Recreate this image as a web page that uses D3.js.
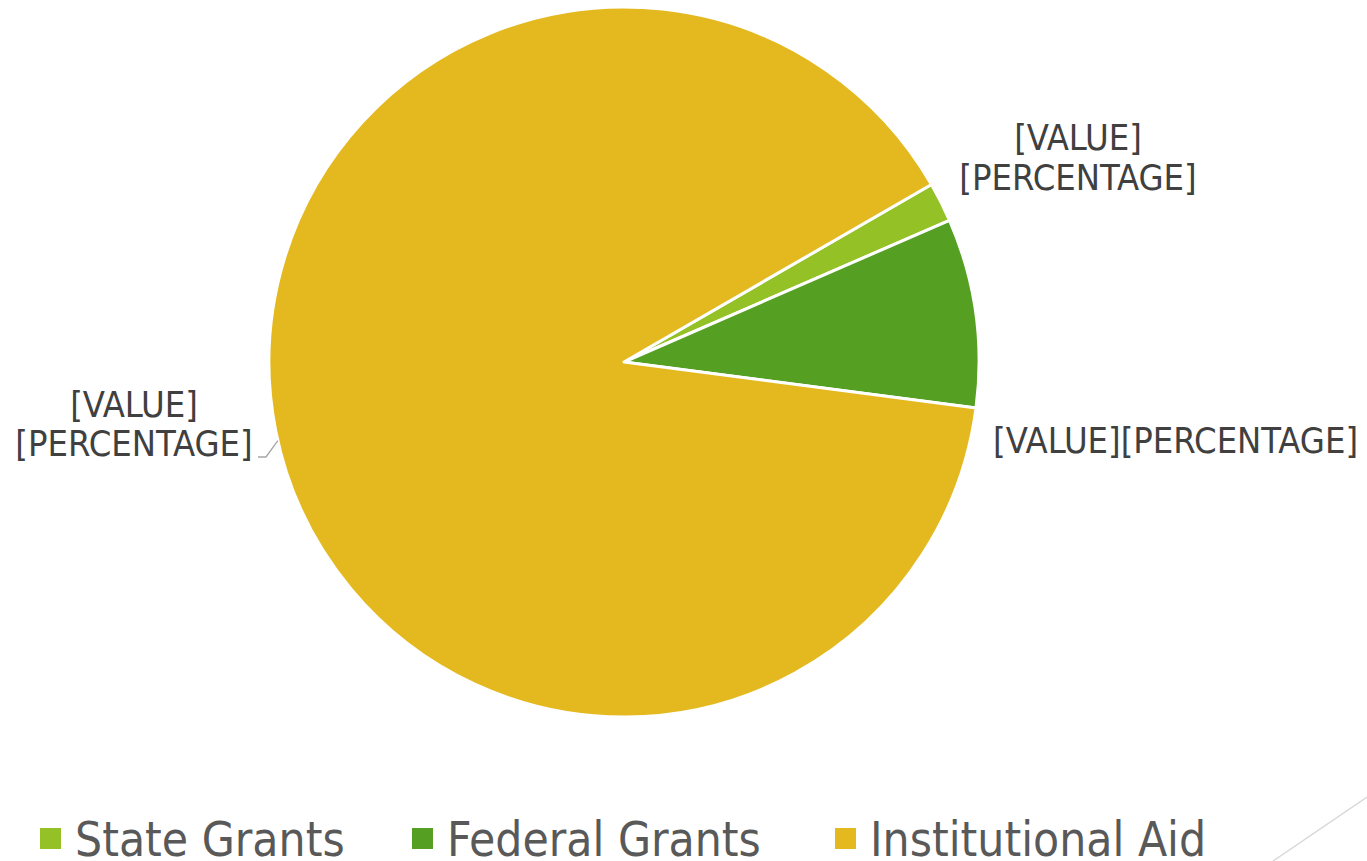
<!DOCTYPE html>
<html><head><meta charset="utf-8">
<script src="https://cdn.jsdelivr.net/npm/d3@7"></script>
<style>body{margin:0;background:#fff;}svg{display:block;}</style>
</head><body>
<svg id="c" width="1367" height="861"></svg>
<script>
const categories = ["State Grants", "Federal Grants", "Institutional Aid"];
const values = [1.8, 8.6, 89.6];
const colors = ["#93C126", "#55A023", "#E4B91F"];
const labelTexts = [["[VALUE]", "[PERCENTAGE]"], ["[VALUE][PERCENTAGE]"], ["[VALUE]", "[PERCENTAGE]"]];

const W = 1367, H = 861;
const cx = 624, cy = 362, R = 355;
const svg = d3.select("#c");
const font = "'DejaVu Sans Condensed', 'DejaVu Sans', sans-serif";

const start = 60 * Math.PI / 180;
const pie = d3.pie().sort(null).startAngle(start).endAngle(start + 2 * Math.PI);
const arcs = pie(values);
const arc = d3.arc().innerRadius(0).outerRadius(R);

const g = svg.append("g").attr("transform", `translate(${cx},${cy})`);
g.selectAll("path").data(arcs).join("path")
  .attr("d", arc)
  .attr("fill", (d, i) => colors[i])
  .attr("stroke", "#fff").attr("stroke-width", 3).attr("stroke-linejoin", "round");

// label layout (positions relative to centre)
const labelLayout = [
  {x: 454, y: -212, lh: 40},
  {x: 369, y: 91, lh: 40, anchor: "start"},
  {x: -490, y: 55, lh: 39}
];
arcs.forEach((a, i) => {
  const L = labelLayout[i];
  const t = g.append("text")
    .attr("font-family", font).attr("font-size", 36).attr("fill", "#404040")
    .attr("text-anchor", L.anchor || "middle");
  labelTexts[i].forEach((s, k) => {
    t.append("tspan").attr("x", L.x).attr("y", L.y + k * L.lh).text(s);
  });
});
// leader line for Institutional Aid label
{
  const ang = 257.2 * Math.PI / 180; // edge point angle (clockwise from north)
  const ex = R * Math.sin(ang), ey = -R * Math.cos(ang);
  g.append("path")
    .attr("d", `M${-366},${95} L${-358},${95} L${ex},${ey}`)
    .attr("fill", "none").attr("stroke", "#A6A6A6").attr("stroke-width", 1.3);
}

// legend
const legendX = [40, 412, 835];
const lg = svg.append("g");
categories.forEach((c, i) => {
  lg.append("rect").attr("x", legendX[i]).attr("y", 828).attr("width", 21).attr("height", 21).attr("fill", colors[i]);
  lg.append("text").attr("x", legendX[i] + 35).attr("y", 856)
    .attr("font-family", font).attr("font-size", 47.5).attr("fill", "#595959").text(c);
});

// decorative line bottom-right
svg.append("line").attr("x1", 1367).attr("y1", 797).attr("x2", 1273).attr("y2", 861)
  .attr("stroke", "#D9D9D9").attr("stroke-width", 1.5);
</script>
</body></html>
